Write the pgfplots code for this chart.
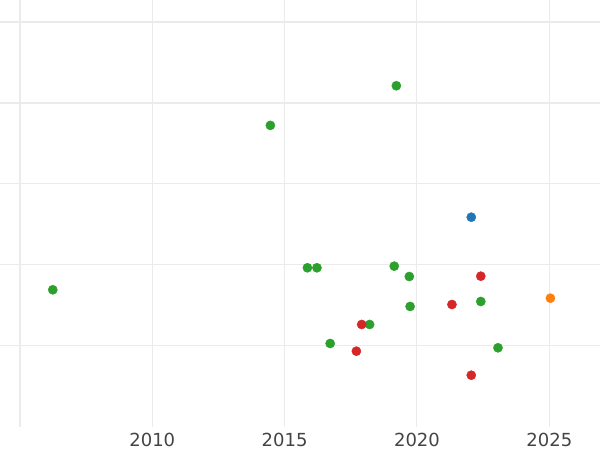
\documentclass[border=0pt]{standalone}
\usepackage{fontspec}
\setmainfont{DejaVu Sans}
\usepackage{pgfplots}
\pgfplotsset{compat=1.18}
\definecolor{cgreen}{HTML}{2CA02C}
\definecolor{cred}{HTML}{D62728}
\definecolor{cblue}{HTML}{1F77B4}
\definecolor{corange}{HTML}{FF7F0E}
\definecolor{cgrid}{HTML}{EBEBEB}
\definecolor{ctick}{HTML}{444444}
\begin{document}
\begin{tikzpicture}
\begin{axis}[
  scale only axis,
  width=600pt, height=426.5pt,
  xmin=2004.246, xmax=2026.914,
  ymin=0, ymax=5.272,
  axis line style={draw=none},
  major tick length=0pt,
  xtick={2010,2015,2020,2025},
  ytick={1,2,3},
  yticklabels={},
  extra x ticks={2005},
  extra x tick labels={},
  extra x tick style={grid style={cgrid, line width=2pt}},
  extra y ticks={4,5},
  extra y tick labels={},
  extra y tick style={grid style={cgrid, line width=2pt}},
  grid=major,
  grid style={cgrid, line width=1pt},
  /pgf/number format/assume math mode=true,
  /pgf/number format/1000 sep={},
  xticklabel style={font=\fontsize{18}{21}\selectfont, text=ctick, anchor=north, yshift=-3pt},
  clip=false,
]
\addplot[only marks, mark=*, mark size=4.6pt, cgreen, mark options={draw=none, fill=cgreen}] coordinates {
(2006.24,1.690) (2014.46,3.722) (2019.22,4.212) (2015.86,1.962) (2016.22,1.962)
(2019.14,1.982) (2019.71,1.854) (2019.74,1.484) (2018.21,1.261) (2016.72,1.026)
(2022.41,1.545) (2023.06,0.973)
};
\addplot[only marks, mark=*, mark size=4.6pt, cred, mark options={draw=none, fill=cred}] coordinates {
(2017.91,1.261) (2017.71,0.931) (2021.32,1.508) (2022.41,1.858) (2022.05,0.634)
};
\addplot[only marks, mark=*, mark size=4.6pt, cblue, mark options={draw=none, fill=cblue}] coordinates {
(2022.05,2.587)
};
\addplot[only marks, mark=*, mark size=4.6pt, corange, mark options={draw=none, fill=corange}] coordinates {
(2025.04,1.586)
};
\end{axis}
\pgfresetboundingbox
\useasboundingbox (current axis.south west) ++(0,-23.5pt) rectangle (current axis.north east);
\end{tikzpicture}
\end{document}
